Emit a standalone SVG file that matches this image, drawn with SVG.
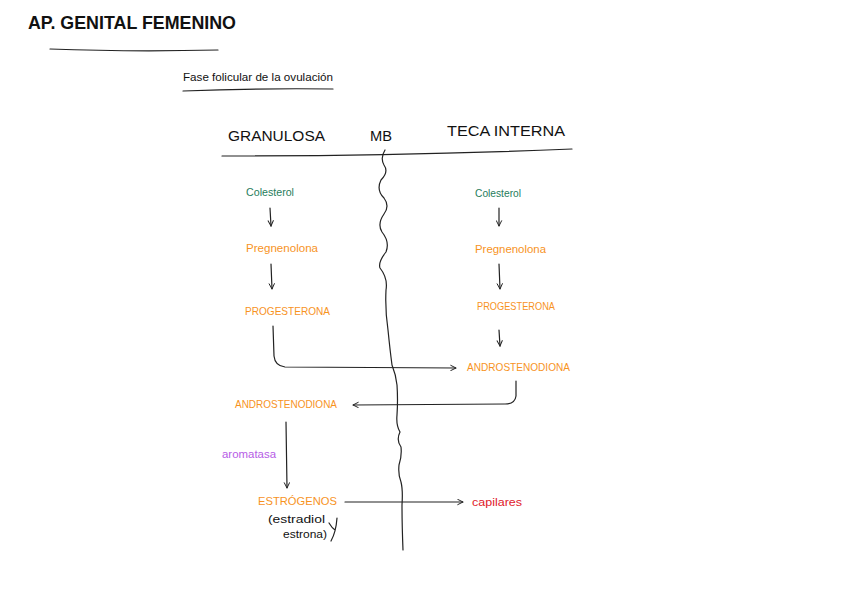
<svg xmlns="http://www.w3.org/2000/svg" width="848" height="599" viewBox="0 0 848 599">
<defs>
<style>
text{font-family:"Liberation Sans Narrow","Liberation Sans",Arial,sans-serif;}
.blk{fill:#111;}
.grn{fill:#1f7d5c;font-size:11px;}
.org{fill:#f7931e;font-size:11px;}
.pur{fill:#b65ce6;font-size:11px;}
.red{fill:#e0202a;font-size:11px;}
.ln{stroke:#222;stroke-width:1.2;fill:none;stroke-linecap:round;}
</style>
<marker id="ah" viewBox="0 0 10 10" refX="9" refY="5" markerWidth="7" markerHeight="7" orient="auto" markerUnits="userSpaceOnUse">
<path d="M1,1 L9,5 L1,9" fill="none" stroke="#222" stroke-width="1.4"/>
</marker>
</defs>
<rect width="848" height="599" fill="#fff"/>
<g id="title">
<text class="blk" x="28" y="29" font-size="19" font-weight="bold" textLength="208" lengthAdjust="spacingAndGlyphs">AP. GENITAL FEMENINO</text>
<path class="ln" d="M50,49 Q130,52 218,50" stroke-width="1.6"/>
</g>
<g id="subtitle">
<text class="blk" x="183" y="81" font-size="11" textLength="150" lengthAdjust="spacingAndGlyphs">Fase folicular de la ovulación</text>
<path class="ln" d="M183,91 Q260,88 333,89" stroke-width="0.9"/>
</g>
<g id="header">
<text class="blk" x="228" y="141" font-size="14" textLength="97" lengthAdjust="spacingAndGlyphs">GRANULOSA</text>
<text class="blk" x="370" y="141" font-size="14" textLength="22" lengthAdjust="spacingAndGlyphs">MB</text>
<text class="blk" x="447" y="136" font-size="14" textLength="118" lengthAdjust="spacingAndGlyphs">TECA INTERNA</text>
<path class="ln" d="M222,156 Q400,156 572,149"/>
</g>
<g id="membrane">
<path class="ln" d="M385,150 Q380,158 384,165 Q389,172 381,180 Q376,190 384,198 Q390,206 384,214 Q377,224 382,232 Q390,242 386,252 Q378,262 380,268 Q388,278 386,290 Q385,310 388,330 Q390,350 392,365 Q396,375 397,385 Q398,400 397,415 Q396,425 400,432 Q396,440 401,447 Q402,456 399,465 Q398,475 401,482 Q403,490 402,505 Q402,525 403,550"/>
</g>
<g id="n-col-l"><text class="grn" x="246" y="196" textLength="48" lengthAdjust="spacingAndGlyphs">Colesterol</text></g>
<g id="n-preg-l"><text class="org" x="246" y="252" textLength="72" lengthAdjust="spacingAndGlyphs">Pregnenolona</text></g>
<g id="n-prog-l"><text class="org" x="245" y="315" textLength="85" lengthAdjust="spacingAndGlyphs">PROGESTERONA</text></g>
<g id="n-col-r"><text class="grn" x="475" y="197" textLength="46" lengthAdjust="spacingAndGlyphs">Colesterol</text></g>
<g id="n-preg-r"><text class="org" x="475" y="253" textLength="71" lengthAdjust="spacingAndGlyphs">Pregnenolona</text></g>
<g id="n-prog-r"><text class="org" x="477" y="310" textLength="78" lengthAdjust="spacingAndGlyphs">PROGESTERONA</text></g>
<g id="n-andro-r"><text class="org" x="467" y="371" textLength="103" lengthAdjust="spacingAndGlyphs">ANDROSTENODIONA</text></g>
<g id="n-andro-l"><text class="org" x="235" y="408" textLength="102" lengthAdjust="spacingAndGlyphs">ANDROSTENODIONA</text></g>
<g id="n-arom"><text class="pur" x="222" y="458" textLength="54" lengthAdjust="spacingAndGlyphs">aromatasa</text></g>
<g id="n-estr">
<text class="org" x="258" y="505" textLength="79" lengthAdjust="spacingAndGlyphs">ESTRÓGENOS</text>
<text class="blk" x="268" y="523" font-size="10" textLength="57" lengthAdjust="spacingAndGlyphs">(estradiol</text>
<text class="blk" x="283" y="538" font-size="10" textLength="44" lengthAdjust="spacingAndGlyphs">estrona)</text>
<path class="ln" d="M337,518 Q336,532 331,541 M329,523 Q332,528 335,530" stroke-width="1"/>
</g>
<g id="n-cap"><text class="red" x="472" y="506" textLength="50" lengthAdjust="spacingAndGlyphs">capilares</text></g>
<g id="connectors">
<path class="ln" d="M270,208 L271,226" marker-end="url(#ah)"/>
<path class="ln" d="M271,264 L272,289" marker-end="url(#ah)"/>
<path class="ln" d="M499,208 L499,226" marker-end="url(#ah)"/>
<path class="ln" d="M499,264 L500,289" marker-end="url(#ah)"/>
<path class="ln" d="M499,330 L500,346" marker-end="url(#ah)"/>
<path class="ln" d="M273,326 L274,356 Q275,366 285,367 L456,368" marker-end="url(#ah)"/>
<path class="ln" d="M516,381 L516,396 Q515,404 505,404 L353,405" marker-end="url(#ah)"/>
<path class="ln" d="M286,422 L287,488" marker-end="url(#ah)"/>
<path class="ln" d="M345,502 L463,502" marker-end="url(#ah)"/>
</g>
</svg>
